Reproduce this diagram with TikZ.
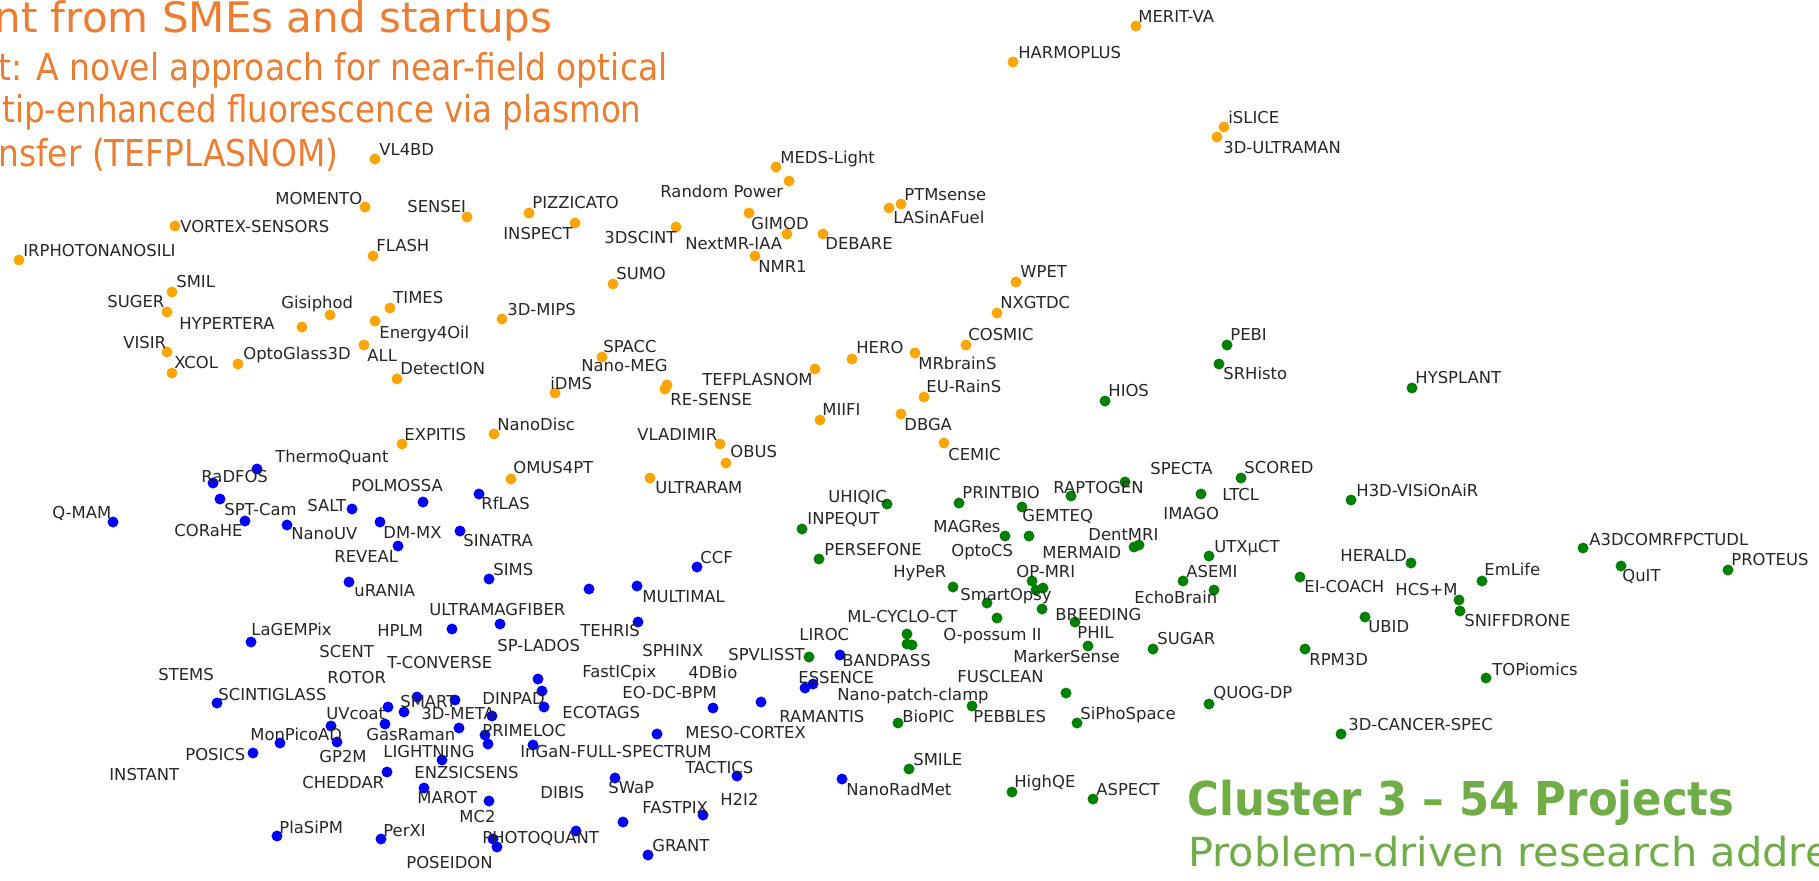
\documentclass[tikz,border=0pt]{standalone}
\usepackage{fontspec}
\usepackage{graphicx}
\newfontfamily\dejavu{DejaVu Sans}
\definecolor{dotorange}{HTML}{FFA500}
\definecolor{dotblue}{HTML}{0000FF}
\definecolor{dotgreen}{HTML}{008000}
\definecolor{labelgray}{HTML}{262626}
\definecolor{titleorange}{HTML}{ED7D31}
\definecolor{titlegreen}{HTML}{70AD47}
\newcommand\labelfont{\dejavu\fontsize{8.2}{9}\selectfont}
\newcommand\mkdot[4]{\node[#1] (#2) at (#3,#4) {};}
\newcommand\mklab[4]{\node[lbl] (#1) at (#2,#3) {#4};}
\tikzset{
  dotO/.style={circle,fill=dotorange,inner sep=0pt,minimum size=5.5pt},
  dotB/.style={circle,fill=dotblue,inner sep=0pt,minimum size=5.5pt},
  dotG/.style={circle,fill=dotgreen,inner sep=0pt,minimum size=5.5pt},
  lbl/.style={anchor=base west,inner sep=0pt,text=labelgray,font=\labelfont},
  ttlO/.style={anchor=base west,inner sep=0pt,text=titleorange},
  ttlG/.style={anchor=base west,inner sep=0pt,text=titlegreen},
}
\begin{document}
\begin{tikzpicture}[x=0.5pt,y=-0.5pt]
\useasboundingbox (0,0) rectangle (1819,880);
\clip (0,0) rectangle (1819,880);
\fill[white] (0,0) rectangle (1819,880);
% ---------- titles ----------
\node[ttlO] (t1) at (-6,32) {\resizebox{279pt}{\height}{\dejavu\fontsize{21}{25}\selectfont nt from SMEs and startups}};
\node[ttlO] (t2) at (-2,80) {\resizebox{334.5pt}{\height}{\dejavu\fontsize{18.5}{22}\selectfont t: A novel approach for near-field optical}};
\node[ttlO] (t3) at (2,122) {\resizebox{319.5pt}{\height}{\dejavu\fontsize{18.5}{22}\selectfont tip-enhanced fluorescence via plasmon}};
\node[ttlO] (t4) at (-2,166) {\resizebox{170pt}{\height}{\dejavu\fontsize{18.5}{22}\selectfont nsfer (TEFPLASNOM)}};
\node[ttlG] (g1) at (1187,815) {\resizebox{273.5pt}{\height}{\dejavu\bfseries\fontsize{23.3}{28}\selectfont Cluster 3 – 54 Projects}};
\node[ttlG] (g2) at (1188,866) {\resizebox{321pt}{\height}{\dejavu\fontsize{20}{24}\selectfont Problem-driven research addre}};
% ---------- orange dots ----------
\mkdot{dotO}{o1}{375}{159}
\mkdot{dotO}{o2}{365}{207}
\mkdot{dotO}{o3}{467}{217}
\mkdot{dotO}{o4}{529}{213}
\mkdot{dotO}{o5}{575}{223}
\mkdot{dotO}{o6}{175}{226}
\mkdot{dotO}{o7}{19}{260}
\mkdot{dotO}{o8}{373}{256}
\mkdot{dotO}{o9}{172}{292}
\mkdot{dotO}{o10}{167}{312}
\mkdot{dotO}{o11}{302}{327}
\mkdot{dotO}{o12}{330}{315}
\mkdot{dotO}{o13}{390}{308}
\mkdot{dotO}{o14}{375}{321}
\mkdot{dotO}{o15}{502}{319}
\mkdot{dotO}{o16}{167}{352}
\mkdot{dotO}{o17}{172}{373}
\mkdot{dotO}{o18}{238}{364}
\mkdot{dotO}{o19}{364}{345}
\mkdot{dotO}{o20}{397}{379}
\mkdot{dotO}{o21}{555}{393}
\mkdot{dotO}{o22}{602}{357}
\mkdot{dotO}{o23}{667}{385}
\mkdot{dotO}{o24}{665}{389}
\mkdot{dotO}{o25}{815}{369}
\mkdot{dotO}{o26}{852}{359}
\mkdot{dotO}{o27}{915}{353}
\mkdot{dotO}{o28}{966}{345}
\mkdot{dotO}{o29}{997}{313}
\mkdot{dotO}{o30}{1016}{282}
\mkdot{dotO}{o31}{924}{397}
\mkdot{dotO}{o32}{820}{420}
\mkdot{dotO}{o33}{901}{414}
\mkdot{dotO}{o34}{720}{444}
\mkdot{dotO}{o35}{726}{463}
\mkdot{dotO}{o36}{650}{478}
\mkdot{dotO}{o37}{944}{443}
\mkdot{dotO}{o38}{494}{434}
\mkdot{dotO}{o39}{402}{444}
\mkdot{dotO}{o40}{511}{479}
\mkdot{dotO}{o41}{1136}{26}
\mkdot{dotO}{o42}{1013}{62}
\mkdot{dotO}{o43}{1224}{127}
\mkdot{dotO}{o44}{1217}{137}
\mkdot{dotO}{o45}{776}{167}
\mkdot{dotO}{o46}{789}{181}
\mkdot{dotO}{o47}{749}{213}
\mkdot{dotO}{o48}{676}{227}
\mkdot{dotO}{o49}{787}{234}
\mkdot{dotO}{o50}{755}{256}
\mkdot{dotO}{o51}{823}{234}
\mkdot{dotO}{o52}{901}{204}
\mkdot{dotO}{o53}{889}{208}
\mkdot{dotO}{o54}{613}{284}
% ---------- blue dots ----------
\mkdot{dotB}{b1}{257}{469}
\mkdot{dotB}{b2}{213}{483}
\mkdot{dotB}{b3}{220}{499}
\mkdot{dotB}{b4}{245}{521}
\mkdot{dotB}{b5}{113}{522}
\mkdot{dotB}{b6}{287}{525}
\mkdot{dotB}{b7}{352}{509}
\mkdot{dotB}{b8}{423}{502}
\mkdot{dotB}{b9}{479}{494}
\mkdot{dotB}{b10}{380}{522}
\mkdot{dotB}{b11}{460}{531}
\mkdot{dotB}{b12}{398}{546}
\mkdot{dotB}{b13}{489}{579}
\mkdot{dotB}{b14}{349}{582}
\mkdot{dotB}{b15}{589}{589}
\mkdot{dotB}{b16}{637}{586}
\mkdot{dotB}{b17}{697}{567}
\mkdot{dotB}{b18}{500}{624}
\mkdot{dotB}{b19}{452}{629}
\mkdot{dotB}{b20}{638}{622}
\mkdot{dotB}{b21}{538}{679}
\mkdot{dotB}{b22}{542}{691}
\mkdot{dotB}{b23}{544}{707}
\mkdot{dotB}{b24}{417}{697}
\mkdot{dotB}{b25}{455}{700}
\mkdot{dotB}{b26}{404}{712}
\mkdot{dotB}{b27}{388}{707}
\mkdot{dotB}{b28}{492}{716}
\mkdot{dotB}{b29}{385}{724}
\mkdot{dotB}{b30}{459}{728}
\mkdot{dotB}{b31}{485}{735}
\mkdot{dotB}{b32}{488}{744}
\mkdot{dotB}{b33}{533}{745}
\mkdot{dotB}{b34}{442}{760}
\mkdot{dotB}{b35}{657}{734}
\mkdot{dotB}{b36}{280}{743}
\mkdot{dotB}{b37}{331}{726}
\mkdot{dotB}{b38}{337}{742}
\mkdot{dotB}{b39}{387}{772}
\mkdot{dotB}{b40}{424}{788}
\mkdot{dotB}{b41}{253}{753}
\mkdot{dotB}{b42}{217}{703}
\mkdot{dotB}{b43}{251}{642}
\mkdot{dotB}{b44}{277}{836}
\mkdot{dotB}{b45}{381}{839}
\mkdot{dotB}{b46}{489}{801}
\mkdot{dotB}{b47}{493}{839}
\mkdot{dotB}{b48}{497}{847}
\mkdot{dotB}{b49}{576}{831}
\mkdot{dotB}{b50}{615}{778}
\mkdot{dotB}{b51}{703}{815}
\mkdot{dotB}{b52}{737}{776}
\mkdot{dotB}{b53}{648}{855}
\mkdot{dotB}{b54}{623}{822}
\mkdot{dotB}{b55}{713}{708}
\mkdot{dotB}{b56}{761}{702}
\mkdot{dotB}{b57}{805}{688}
\mkdot{dotB}{b58}{813}{684}
\mkdot{dotB}{b59}{840}{655}
\mkdot{dotB}{b60}{842}{779}
% ---------- green dots ----------
\mkdot{dotG}{g1}{887}{504}
\mkdot{dotG}{g2}{959}{503}
\mkdot{dotG}{g3}{1022}{507}
\mkdot{dotG}{g4}{802}{529}
\mkdot{dotG}{g5}{1005}{536}
\mkdot{dotG}{g6}{1029}{536}
\mkdot{dotG}{g7}{1134}{547}
\mkdot{dotG}{g8}{1139}{545}
\mkdot{dotG}{g9}{819}{559}
\mkdot{dotG}{g10}{953}{587}
\mkdot{dotG}{g11}{1032}{581}
\mkdot{dotG}{g12}{1043}{588}
\mkdot{dotG}{g13}{1036}{590}
\mkdot{dotG}{g14}{987}{603}
\mkdot{dotG}{g15}{1042}{609}
\mkdot{dotG}{g16}{997}{618}
\mkdot{dotG}{g17}{1075}{622}
\mkdot{dotG}{g18}{907}{634}
\mkdot{dotG}{g19}{907}{644}
\mkdot{dotG}{g20}{912}{645}
\mkdot{dotG}{g21}{1088}{646}
\mkdot{dotG}{g22}{809}{657}
\mkdot{dotG}{g23}{1153}{649}
\mkdot{dotG}{g24}{1214}{590}
\mkdot{dotG}{g25}{1183}{581}
\mkdot{dotG}{g26}{1209}{556}
\mkdot{dotG}{g27}{1066}{693}
\mkdot{dotG}{g28}{972}{706}
\mkdot{dotG}{g29}{898}{723}
\mkdot{dotG}{g30}{1077}{723}
\mkdot{dotG}{g31}{1209}{704}
\mkdot{dotG}{g32}{909}{769}
\mkdot{dotG}{g33}{1012}{792}
\mkdot{dotG}{g34}{1093}{799}
\mkdot{dotG}{g35}{1105}{401}
\mkdot{dotG}{g36}{1125}{482}
\mkdot{dotG}{g37}{1071}{496}
\mkdot{dotG}{g38}{1201}{494}
\mkdot{dotG}{g39}{1241}{478}
\mkdot{dotG}{g40}{1227}{345}
\mkdot{dotG}{g41}{1219}{364}
\mkdot{dotG}{g42}{1412}{388}
\mkdot{dotG}{g43}{1351}{500}
\mkdot{dotG}{g44}{1583}{548}
\mkdot{dotG}{g45}{1411}{563}
\mkdot{dotG}{g46}{1482}{581}
\mkdot{dotG}{g47}{1621}{566}
\mkdot{dotG}{g48}{1728}{570}
\mkdot{dotG}{g49}{1300}{577}
\mkdot{dotG}{g50}{1459}{600}
\mkdot{dotG}{g51}{1460}{611}
\mkdot{dotG}{g52}{1365}{617}
\mkdot{dotG}{g53}{1305}{649}
\mkdot{dotG}{g54}{1486}{678}
\mkdot{dotG}{g55}{1341}{734}
% ---------- orange labels ----------
\mklab{lo1}{379}{155}{VL4BD}
\mklab{lo2}{275}{204}{MOMENTO}
\mklab{lo3}{407}{212}{SENSEI}
\mklab{lo4}{532}{208}{PIZZICATO}
\mklab{lo5}{503}{239}{INSPECT}
\mklab{lo6}{180}{232}{VORTEX-SENSORS}
\mklab{lo7}{23}{256}{IRPHOTONANOSILI}
\mklab{lo8}{376}{251}{FLASH}
\mklab{lo9}{176}{287}{SMIL}
\mklab{lo10}{107}{307}{SUGER}
\mklab{lo11}{179}{329}{HYPERTERA}
\mklab{lo12}{281}{308}{Gisiphod}
\mklab{lo13}{393}{303}{TIMES}
\mklab{lo14}{379}{338}{Energy4Oil}
\mklab{lo15}{507}{315}{3D-MIPS}
\mklab{lo16}{123}{348}{VISIR}
\mklab{lo17}{174}{368}{XCOL}
\mklab{lo18}{243}{359}{OptoGlass3D}
\mklab{lo19}{367}{361}{ALL}
\mklab{lo20}{400}{374}{DetectION}
\mklab{lo21}{550}{389}{iDMS}
\mklab{lo22}{603}{352}{SPACC}
\mklab{lo23}{581}{371}{Nano-MEG}
\mklab{lo24}{670}{405}{RE-SENSE}
\mklab{lo25}{702}{385}{TEFPLASNOM}
\mklab{lo26}{856}{353}{HERO}
\mklab{lo27}{918}{369}{MRbrainS}
\mklab{lo28}{968}{340}{COSMIC}
\mklab{lo29}{1000}{308}{NXGTDC}
\mklab{lo30}{1020}{277}{WPET}
\mklab{lo31}{926}{392}{EU-RainS}
\mklab{lo32}{822}{415}{MIIFI}
\mklab{lo33}{904}{430}{DBGA}
\mklab{lo34}{637}{440}{VLADIMIR}
\mklab{lo35}{730}{457}{OBUS}
\mklab{lo36}{655}{493}{ULTRARAM}
\mklab{lo37}{948}{460}{CEMIC}
\mklab{lo38}{497}{430}{NanoDisc}
\mklab{lo39}{404}{440}{EXPITIS}
\mklab{lo40}{513}{473}{OMUS4PT}
\mklab{lo41}{1138}{22}{MERIT-VA}
\mklab{lo42}{1018}{58}{HARMOPLUS}
\mklab{lo43}{1228}{123}{iSLICE}
\mklab{lo44}{1223}{153}{3D-ULTRAMAN}
\mklab{lo45}{780}{163}{MEDS-Light}
\mklab{lo46}{660}{197}{Random Power}
\mklab{lo47}{751}{229}{GIMOD}
\mklab{lo48}{604}{243}{3DSCINT}
\mklab{lo49}{685}{249}{NextMR-IAA}
\mklab{lo50}{758}{272}{NMR1}
\mklab{lo51}{825}{249}{DEBARE}
\mklab{lo52}{904}{200}{PTMsense}
\mklab{lo53}{893}{223}{LASinAFuel}
\mklab{lo54}{616}{279}{SUMO}
% ---------- blue labels ----------
\mklab{lb1}{275}{462}{ThermoQuant}
\mklab{lb2}{201}{482}{RaDFOS}
\mklab{lb3}{224}{515}{SPT-Cam}
\mklab{lb4}{174}{536}{CORaHE}
\mklab{lb5}{52}{518}{Q-MAM}
\mklab{lb6}{291}{539}{NanoUV}
\mklab{lb7}{307}{511}{SALT}
\mklab{lb8}{351}{491}{POLMOSSA}
\mklab{lb9}{481}{509}{RfLAS}
\mklab{lb10}{383}{538}{DM-MX}
\mklab{lb11}{463}{546}{SINATRA}
\mklab{lb12}{334}{562}{REVEAL}
\mklab{lb13}{493}{575}{SIMS}
\mklab{lb14}{354}{596}{uRANIA}
\mklab{lb15}{642}{602}{MULTIMAL}
\mklab{lb16}{700}{563}{CCF}
\mklab{lb17}{429}{615}{ULTRAMAGFIBER}
\mklab{lb18}{377}{636}{HPLM}
\mklab{lb19}{580}{636}{TEHRIS}
\mklab{lb20}{497}{651}{SP-LADOS}
\mklab{lb21}{319}{657}{SCENT}
\mklab{lb22}{642}{656}{SPHINX}
\mklab{lb23}{387}{668}{T-CONVERSE}
\mklab{lb24}{582}{677}{FastICpix}
\mklab{lb25}{327}{683}{ROTOR}
\mklab{lb26}{482}{704}{DINPAD}
\mklab{lb27}{562}{718}{ECOTAGS}
\mklab{lb28}{400}{707}{SMART}
\mklab{lb29}{421}{719}{3D-META}
\mklab{lb30}{326}{719}{UVcoat}
\mklab{lb31}{366}{740}{GasRaman}
\mklab{lb32}{482}{736}{PRIMELOC}
\mklab{lb33}{520}{757}{InGaN-FULL-SPECTRUM}
\mklab{lb34}{383}{757}{LIGHTNING}
\mklab{lb35}{685}{738}{MESO-CORTEX}
\mklab{lb36}{250}{740}{MonPicoAD}
\mklab{lb37}{319}{762}{GP2M}
\mklab{lb38}{414}{778}{ENZSICSENS}
\mklab{lb39}{302}{788}{CHEDDAR}
\mklab{lb40}{417}{803}{MAROT}
\mklab{lb41}{185}{760}{POSICS}
\mklab{lb42}{109}{780}{INSTANT}
\mklab{lb43}{158}{680}{STEMS}
\mklab{lb44}{218}{700}{SCINTIGLASS}
\mklab{lb45}{251}{635}{LaGEMPix}
\mklab{lb46}{279}{833}{PlaSiPM}
\mklab{lb47}{383}{836}{PerXI}
\mklab{lb48}{406}{868}{POSEIDON}
\mklab{lb49}{459}{822}{MC2}
\mklab{lb50}{482}{843}{PHOTOQUANT}
\mklab{lb51}{540}{798}{DIBIS}
\mklab{lb52}{608}{793}{SWaP}
\mklab{lb53}{642}{813}{FASTPIX}
\mklab{lb54}{720}{805}{H2I2}
\mklab{lb55}{685}{773}{TACTICS}
\mklab{lb56}{652}{851}{GRANT}
\mklab{lb57}{622}{698}{EO-DC-BPM}
\mklab{lb58}{688}{678}{4DBio}
\mklab{lb59}{779}{722}{RAMANTIS}
\mklab{lb60}{798}{683}{ESSENCE}
\mklab{lb61}{837}{700}{Nano-patch-clamp}
\mklab{lb62}{842}{666}{BANDPASS}
\mklab{lb63}{846}{795}{NanoRadMet}
% ---------- green labels ----------
\mklab{lg1}{828}{502}{UHIQIC}
\mklab{lg2}{962}{498}{PRINTBIO}
\mklab{lg3}{1022}{521}{GEMTEQ}
\mklab{lg4}{807}{524}{INPEQUT}
\mklab{lg5}{933}{532}{MAGRes}
\mklab{lg6}{951}{556}{OptoCS}
\mklab{lg7}{1088}{540}{DentMRI}
\mklab{lg8}{1042}{558}{MERMAID}
\mklab{lg9}{824}{555}{PERSEFONE}
\mklab{lg10}{893}{577}{HyPeR}
\mklab{lg11}{1016}{577}{OP-MRI}
\mklab{lg12}{960}{600}{SmartOpsy}
\mklab{lg13}{1055}{620}{BREEDING}
\mklab{lg14}{847}{622}{ML-CYCLO-CT}
\mklab{lg15}{943}{640}{O-possum II}
\mklab{lg16}{1077}{638}{PHIL}
\mklab{lg17}{799}{640}{LIROC}
\mklab{lg18}{728}{660}{SPVLISST}
\mklab{lg19}{1013}{662}{MarkerSense}
\mklab{lg20}{1157}{644}{SUGAR}
\mklab{lg21}{1134}{603}{EchoBrain}
\mklab{lg22}{1186}{577}{ASEMI}
\mklab{lg23}{1214}{552}{UTXμCT}
\mklab{lg24}{957}{682}{FUSCLEAN}
\mklab{lg25}{973}{722}{PEBBLES}
\mklab{lg26}{902}{722}{BioPIC}
\mklab{lg27}{1080}{719}{SiPhoSpace}
\mklab{lg28}{1213}{698}{QUOG-DP}
\mklab{lg29}{913}{765}{SMILE}
\mklab{lg30}{1014}{787}{HighQE}
\mklab{lg31}{1096}{795}{ASPECT}
\mklab{lg32}{1108}{396}{HIOS}
\mklab{lg33}{1150}{474}{SPECTA}
\mklab{lg34}{1053}{493}{RAPTOGEN}
\mklab{lg35}{1222}{500}{LTCL}
\mklab{lg36}{1163}{519}{IMAGO}
\mklab{lg37}{1244}{473}{SCORED}
\mklab{lg38}{1230}{340}{PEBI}
\mklab{lg39}{1223}{379}{SRHisto}
\mklab{lg40}{1415}{383}{HYSPLANT}
\mklab{lg41}{1356}{496}{H3D-VISiOnAiR}
\mklab{lg42}{1589}{545}{A3DCOMRFPCTUDL}
\mklab{lg43}{1340}{561}{HERALD}
\mklab{lg44}{1484}{575}{EmLife}
\mklab{lg45}{1622}{581}{QuIT}
\mklab{lg46}{1731}{565}{PROTEUS}
\mklab{lg47}{1304}{592}{EI-COACH}
\mklab{lg48}{1395}{595}{HCS+M}
\mklab{lg49}{1464}{626}{SNIFFDRONE}
\mklab{lg50}{1368}{632}{UBID}
\mklab{lg51}{1309}{665}{RPM3D}
\mklab{lg52}{1492}{675}{TOPiomics}
\mklab{lg53}{1348}{730}{3D-CANCER-SPEC}
\end{tikzpicture}
\end{document}
